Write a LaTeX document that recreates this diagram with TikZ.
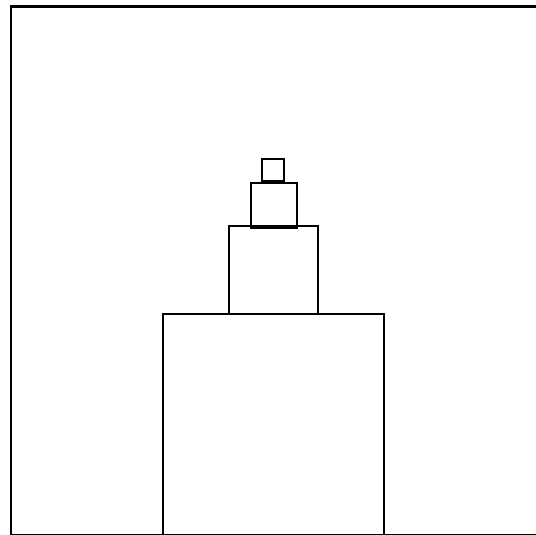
\documentclass[tikz,border=0pt]{standalone}
\begin{document}
\begin{tikzpicture}[x=1bp,y=-1bp,
  box/.style={draw=black,line width=2.2bp,fill=none,inner sep=0pt,outer sep=0pt,rectangle}]
\useasboundingbox (0,0) rectangle (536,535);
\clip (0,0) rectangle (536,535);
\node[box,minimum width=526bp,minimum height=528bp] (frame) at (274,270.6) {};
\node[box,minimum width=221bp,minimum height=221bp] (base) at (273.8,424.2) {};
\node[box,minimum width=89bp,minimum height=88bp] (mid) at (273.8,269.7) {};
\node[box,minimum width=45.4bp,minimum height=45.3bp] (upper) at (274,205.7) {};
\node[box,minimum width=22.3bp,minimum height=22bp] (top) at (272.9,170) {};
\end{tikzpicture}
\end{document}
